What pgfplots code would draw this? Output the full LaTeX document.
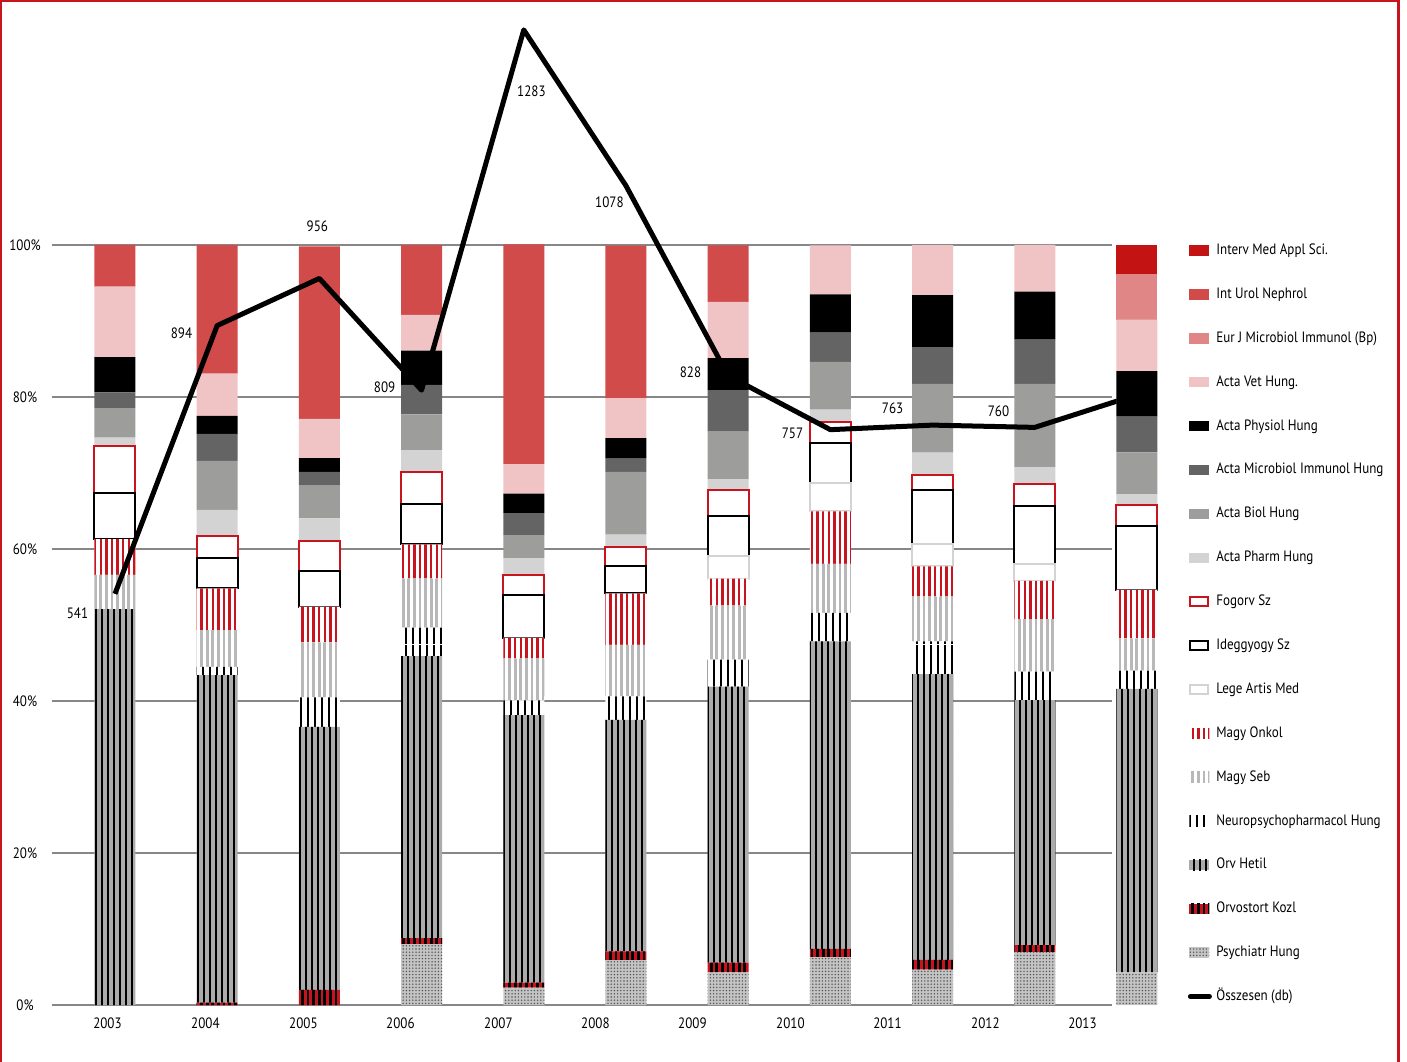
\documentclass[border=0pt]{standalone}
\usepackage{fontspec}
\setmainfont{PT Sans}[FakeStretch=0.87]
\usepackage{pgfplots}
\pgfplotsset{compat=1.18}
\usepackage{pgfplotstable}
\usetikzlibrary{patterns.meta}

\definecolor{cInterv}{HTML}{C41313}
\definecolor{cUrol}{HTML}{D24B4B}
\definecolor{cEurJ}{HTML}{E08686}
\definecolor{cVet}{HTML}{F0C3C5}
\definecolor{cMicro}{HTML}{646464}
\definecolor{cBiol}{HTML}{9D9D9C}
\definecolor{cPharm}{HTML}{D3D3D3}
\definecolor{cRed}{HTML}{C8141E}
\definecolor{cSGray}{HTML}{B8B8B8}
\definecolor{cOHgray}{HTML}{ABABAB}
\definecolor{cDotBg}{HTML}{C4C4C4}
\definecolor{cDot}{HTML}{555555}
\definecolor{cGrid}{HTML}{878787}
\definecolor{cFrame}{HTML}{C8141E}

\pgfplotsset{
  boxlegend/.style={legend image code/.code={\draw[##1] (0.5pt,-2.3pt) rectangle (9.5pt,2.3pt);}},
  filllegend/.style={legend image code/.code={\fill[##1] (0pt,-2.6pt) rectangle (10pt,2.6pt);}},
  linelegend/.style={legend image code/.code={\draw[black, line width=2.5pt, line cap=round] (0.5pt,0pt) -- (10pt,0pt);}},
}

\pgfplotstableread{
x Psy Ork OH Neu Seb Onk Lege Ideg Fog Pharm Biol Micro Phys Vet EurJ Urol Interv
0 0 0 52.1 0 4.5 4.7 0 6.1 6.1 1.15 3.9 2.06 4.65 9.25 0 5.5 0
1 0 0.3 43.1 1.1 4.84 5.48 0 4.0 2.9 3.42 6.45 3.55 2.39 5.55 0 16.9 0
2 0 2.0 34.6 3.87 7.23 4.71 0 4.71 3.87 3.03 4.32 1.81 1.81 5.16 0 22.7 0
3 8.0 0.8 37.1 3.74 6.45 4.52 0 5.29 4.26 2.84 4.71 3.87 4.52 4.71 0 9.16 0
4 2.3 0.65 35.2 1.94 5.48 2.77 0 5.61 2.58 2.26 3.03 2.9 2.58 3.87 0 28.9 0
5 5.9 1.16 30.45 3.1 6.77 6.77 0 3.55 2.58 1.61 8.26 1.74 2.71 5.23 0 20.1 0
6 4.3 1.29 36.3 3.55 7.1 3.55 3.03 5.16 3.42 1.48 6.26 5.48 4.19 7.42 0 7.42 0
7 6.3 1.1 40.45 3.74 6.45 6.9 3.74 5.29 2.77 1.61 6.26 3.87 5.03 6.45 0 0 0
8 4.65 1.29 37.6 4.32 5.87 4.0 2.9 7.1 2.06 2.9 9.03 4.84 6.84 6.58 0 0 0
9 6.97 0.9 32.26 3.74 6.9 5.03 2.26 7.55 2.9 2.26 10.97 5.81 6.32 6.13 0 0 0
10 4.3 0 37.3 2.39 4.26 6.39 0 8.45 2.71 1.42 5.48 4.71 6.0 6.77 5.94 0 3.87
}\bars

\pgfplotstableread{
x v dx dy
0 541 -18.75 -9.5
1 894 -17.85 -4
2 956 -1 26
3 809 -18.5 1.5
4 1283 3.85 -30.5
5 1078 -8.25 -8.5
6 828 -18.85 1.7
7 757 -18.95 -1.75
8 763 -20 8.5
9 760 -18.15 8
10 803 -19.75 3.2
}\total

\begin{document}
\begin{tikzpicture}
\begin{axis}[
  at={(0,0)}, anchor=south west,
  x=51.1pt, y=3.8pt,
  xmin=-0.616, xmax=9.755, ymin=0, ymax=132,
  clip=false,
  ybar stacked, bar width=20.5pt,
  axis line style={draw=none},
  major tick length=0pt,
  ymajorgrids, grid style={cGrid, line width=0.6pt},
  ytick={0,20,40,60,80,100},
  yticklabel={\pgfmathprintnumber{\tick}\%},
  yticklabel style={anchor=center, xshift=-13.5pt, inner sep=0pt},
  xtick={-0.073,0.885,1.844,2.793,3.752,4.701,5.650,6.609,7.559,8.517,9.467},
  xticklabels={2003,2004,2005,2006,2007,2008,2009,2010,2011,2012,2013},
  xticklabel style={anchor=base, yshift=-11.5pt, inner sep=0pt},
  /pgf/number format/assume math mode=true,
  ticklabel style={font=\fontsize{7.5}{8.5}\selectfont},
  font=\fontsize{7.5}{8.5}\selectfont,
  reverse legend,
  legend cell align=left,
  filllegend,
  legend style={at={(1.0717,0.7590)}, anchor=north west, draw=none, fill=none,
    inner sep=0pt, outer sep=0pt, row sep=14.94pt, column sep=2.2pt,
    nodes={inner sep=0pt, text height=5.5pt, text depth=1.5pt},
    font=\fontsize{7.5}{8.5}\selectfont},
]
\addlegendimage{linelegend}
\addlegendentry{Összesen (db)}

\addplot[draw=none, fill=cDotBg, postaction={pattern={Dots[distance=1.6pt, radius=0.4pt]}, pattern color=cDot}] table[x=x,y=Psy]{\bars};
\addlegendentry{Psychiatr Hung}
\addplot[draw=none, fill=cRed, postaction={pattern={Lines[angle=90,distance=2.8pt,line width=1.4pt]}, pattern color=black}] table[x=x,y=Ork]{\bars};
\addlegendentry{Orvostort Kozl}
\addplot[draw=none, fill=cOHgray, postaction={pattern={Lines[angle=90,distance=3pt,line width=1.45pt]}, pattern color=black}] table[x=x,y=OH]{\bars};
\addlegendentry{Orv Hetil}
\addplot[draw=none, fill=white, postaction={pattern={Lines[angle=90,distance=3.5pt,line width=1.3pt]}, pattern color=black}] table[x=x,y=Neu]{\bars};
\addlegendentry{Neuropsychopharmacol Hung}
\addplot[draw=none, fill=white, postaction={pattern={Lines[angle=90,distance=2.8pt,line width=1.4pt]}, pattern color=cSGray}] table[x=x,y=Seb]{\bars};
\addlegendentry{Magy Seb}
\addplot[draw=none, fill=white, postaction={pattern={Lines[angle=90,distance=2.8pt,line width=1.2pt]}, pattern color=cRed}] table[x=x,y=Onk]{\bars};
\addlegendentry{Magy Onkol}
\addplot[draw=cPharm, line width=1pt, fill=white, boxlegend] table[x=x,y=Lege]{\bars};
\addlegendentry{Lege Artis Med}
\addplot[draw=black, line width=1pt, fill=white, boxlegend] table[x=x,y=Ideg]{\bars};
\addlegendentry{Ideggyogy Sz}
\addplot[draw=cRed, line width=1pt, fill=white, boxlegend] table[x=x,y=Fog]{\bars};
\addlegendentry{Fogorv Sz}
\addplot[draw=none, fill=cPharm] table[x=x,y=Pharm]{\bars};
\addlegendentry{Acta Pharm Hung}
\addplot[draw=none, fill=cBiol] table[x=x,y=Biol]{\bars};
\addlegendentry{Acta Biol Hung}
\addplot[draw=none, fill=cMicro] table[x=x,y=Micro]{\bars};
\addlegendentry{Acta Microbiol Immunol Hung}
\addplot[draw=none, fill=black] table[x=x,y=Phys]{\bars};
\addlegendentry{Acta Physiol Hung}
\addplot[draw=none, fill=cVet] table[x=x,y=Vet]{\bars};
\addlegendentry{Acta Vet Hung.}
\addplot[draw=none, fill=cEurJ] table[x=x,y=EurJ]{\bars};
\addlegendentry{Eur J Microbiol Immunol (Bp)}
\addplot[draw=none, fill=cUrol] table[x=x,y=Urol]{\bars};
\addlegendentry{Int Urol Nephrol}
\addplot[draw=none, fill=cInterv] table[x=x,y=Interv]{\bars};
\addlegendentry{Interv Med Appl Sci.}
\end{axis}

\begin{axis}[
  at={(0,0)}, anchor=south west,
  x=51.1pt, y=0.38pt,
  xmin=-0.616, xmax=9.80, ymin=0, ymax=1320,
  hide axis, clip=true,
  font=\fontsize{7.5}{8.5}\selectfont,
]
\addplot[black, line width=2.5pt, line join=round, mark=none,
  nodes near coords, point meta=explicit symbolic,
  visualization depends on={\thisrow{dx} \as \dx},
  visualization depends on={\thisrow{dy} \as \dy},
  every node near coord/.append style={anchor=center, xshift=\dx pt, yshift=\dy pt, text=black, font=\fontsize{7.5}{8.5}\selectfont, inner sep=0pt},
] table[x=x, y=v, meta=v]{\total};
\end{axis}

\draw[cFrame, line width=1.5pt] (-25.5pt,-30pt) -- (-25.5pt,502pt) -- (673.25pt,502pt) -- (673.25pt,-30pt);
\pgfresetboundingbox
\useasboundingbox (-26pt,-28pt) rectangle (677.5pt,502.5pt);
\end{tikzpicture}
\end{document}
